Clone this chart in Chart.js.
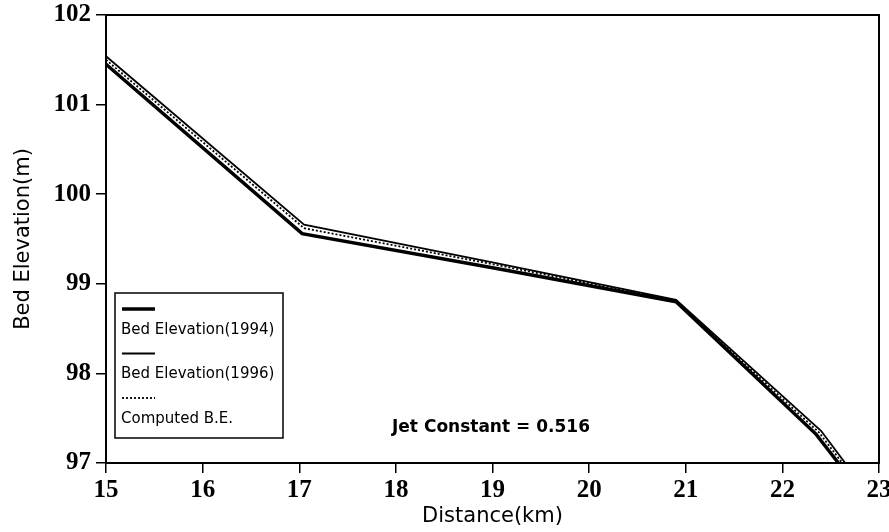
<!DOCTYPE html>
<html>
<head>
<meta charset="utf-8">
<script src="https://cdn.jsdelivr.net/npm/chart.js@4/dist/chart.umd.min.js"></script>
<style>
html,body{margin:0;padding:0;background:#fff;}
#wrap{width:889px;height:532px;position:relative;}
</style>
</head>
<body>
<div id="wrap"><canvas id="c" width="889" height="532"></canvas></div>
<script>
// ---- data ----
const dist1994 = [15, 17.03, 19, 20.9, 22.35, 22.58];
const elev1994 = [101.45, 99.56, 99.18, 98.80, 97.32, 97.0];
const dist1996 = [15, 17.05, 19, 20.9, 22.40, 22.65];
const elev1996 = [101.54, 99.66, 99.24, 98.82, 97.36, 97.0];
const distComp = [15, 17.05, 19, 20.9, 22.38, 22.62];
const elevComp = [101.50, 99.62, 99.22, 98.81, 97.34, 97.0];
const seriesLabels = ['Bed Elevation(1994)', 'Bed Elevation(1996)', 'Computed B.E.'];
const xTicks = [15, 16, 17, 18, 19, 20, 21, 22, 23];
const yTicks = [97, 98, 99, 100, 101, 102];
const xTitle = 'Distance(km)';
const yTitle = 'Bed Elevation(m)';
const noteText = 'Jet Constant = 0.516';

const pts = (xs, ys) => xs.map((x, i) => ({x: x, y: ys[i]}));

const framePlugin = {
  id: 'frame',
  afterDraw(chart) {
    const {ctx, chartArea: a} = chart;
    ctx.save();
    ctx.strokeStyle = '#000';
    ctx.lineWidth = 2;
    ctx.strokeRect(a.left, a.top, a.right - a.left, a.bottom - a.top);
    // note text
    ctx.fillStyle = '#000';
    ctx.font = 'bold 17px "DejaVu Sans"';
    ctx.textAlign = 'left';
    ctx.textBaseline = 'middle';
    ctx.fillText(noteText, 392, 428);
    // legend box
    const bx = 115, by = 293, bw = 168, bh = 145;
    ctx.fillStyle = '#fff';
    ctx.fillRect(bx, by, bw, bh);
    ctx.lineWidth = 1.5;
    ctx.strokeStyle = '#000';
    ctx.strokeRect(bx, by, bw, bh);
    chart.data.datasets.forEach((ds, i) => {
      const ly = 309 + i * 44.5;
      ctx.beginPath();
      ctx.lineWidth = ds.borderWidth;
      ctx.setLineDash(ds.borderDash || []);
      ctx.moveTo(122, ly);
      ctx.lineTo(155, ly);
      ctx.stroke();
      ctx.setLineDash([]);
      ctx.fillStyle = '#000';
      ctx.font = '15px "DejaVu Sans"';
      ctx.textBaseline = 'middle';
      ctx.fillText(ds.label, 121, ly + 21);
    });
    ctx.restore();
  }
};

new Chart(document.getElementById('c'), {
  type: 'line',
  data: {
    datasets: [
      {label: seriesLabels[0], data: pts(dist1994, elev1994), borderColor: '#000', borderWidth: 3.5, pointRadius: 0, tension: 0, fill: false},
      {label: seriesLabels[1], data: pts(dist1996, elev1996), borderColor: '#000', borderWidth: 1.8, pointRadius: 0, tension: 0, fill: false},
      {label: seriesLabels[2], data: pts(distComp, elevComp), borderColor: '#000', borderWidth: 1.8, borderDash: [2, 2], pointRadius: 0, tension: 0, fill: false}
    ]
  },
  options: {
    responsive: false,
    animation: false,
    layout: {padding: {left: 0, right: 10, top: 15, bottom: 0}},
    plugins: {legend: {display: false}, tooltip: {enabled: false}},
    scales: {
      x: {
        type: 'linear', min: 15, max: 23,
        afterBuildTicks(s) { s.ticks = xTicks.map(v => ({value: v})); },
        afterFit(s) { s.height = 69; s.paddingLeft = 0; s.paddingRight = 0; },
        ticks: {color: '#000', padding: 3, font: {family: '"Liberation Serif"', weight: 'bold', size: 25}},
        grid: {drawOnChartArea: false, drawTicks: true, tickLength: 10, color: '#000', lineWidth: 1.5},
        border: {display: true, color: '#000', width: 2},
        title: {display: true, text: xTitle, color: '#000', font: {family: '"DejaVu Sans"', size: 21}, padding: {top: 0, bottom: 3}}
      },
      y: {
        type: 'linear', min: 97, max: 102,
        afterBuildTicks(s) { s.ticks = yTicks.map(v => ({value: v})); },
        afterFit(s) { s.width = 106; s.paddingTop = 0; s.paddingBottom = 0; },
        ticks: {color: '#000', padding: 5, font: {family: '"Liberation Serif"', weight: 'bold', size: 25}},
        grid: {drawOnChartArea: false, drawTicks: true, tickLength: 10, color: '#000', lineWidth: 1.5},
        border: {display: true, color: '#000', width: 2},
        title: {display: true, text: yTitle, color: '#000', font: {family: '"DejaVu Sans"', size: 21}, padding: {top: 11, bottom: 0}}
      }
    }
  },
  plugins: [framePlugin]
});
</script>
</body>
</html>
